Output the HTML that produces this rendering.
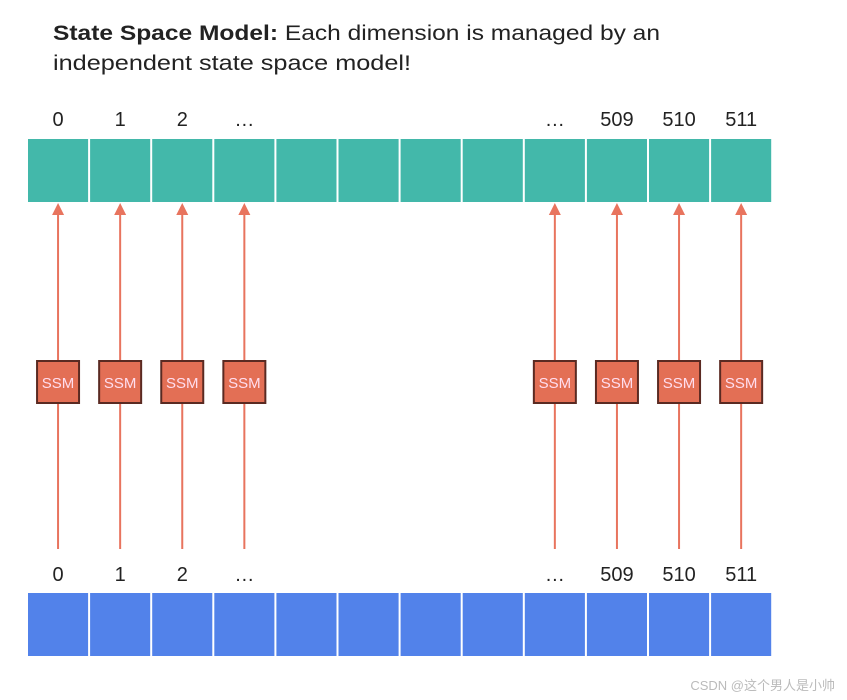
<!DOCTYPE html>
<html><head><meta charset="utf-8">
<style>
html,body{margin:0;padding:0;background:#fff;}
svg{display:block;}
</style></head>
<body>
<svg id="chart" width="847" height="700" viewBox="0 0 847 700" xmlns="http://www.w3.org/2000/svg" font-family="'Liberation Sans', sans-serif">
  <text x="53" y="40" font-size="21" fill="#222" textLength="607" lengthAdjust="spacingAndGlyphs"><tspan font-weight="bold">State Space Model:</tspan> Each dimension is managed by an</text>
  <text x="53" y="70" font-size="21" fill="#222" textLength="358" lengthAdjust="spacingAndGlyphs">independent state space model!</text>
  <g id="g"></g>
  <text x="835" y="690" font-size="13" fill="#bbb" text-anchor="end" font-family="'Liberation Sans','Noto Sans CJK SC',sans-serif">CSDN @这个男人是小帅</text>
</svg>
<script>
const cellCount = 12;
const labelIndices = [0,1,2,3,8,9,10,11];
const labels = ["0","1","2","…","…","509","510","511"];
const ssmIndices = [0,1,2,3,8,9,10,11];
const ssmText = ["SSM","SSM","SSM","SSM","SSM","SSM","SSM","SSM"];

const NS="http://www.w3.org/2000/svg";
const g=document.getElementById('g');
const x0=27, cw=62.1;
function cx(i){return x0+cw*i+cw/2;}
function mk(t,a){const e=document.createElementNS(NS,t);for(const k in a)e.setAttribute(k,a[k]);g.appendChild(e);return e;}

for(let i=0;i<cellCount;i++){
  let r=mk('rect',{x:x0+cw*i+1,y:139,width:cw-2,height:63,fill:'#43b8aa'});
  
  
  let b=mk('rect',{x:x0+cw*i+1,y:593,width:cw-2,height:63,fill:'#5282ea'});
  
  
}
labelIndices.forEach((idx,k)=>{
  let t=mk('text',{x:cx(idx),y:126,'font-size':20,fill:'#222','text-anchor':'middle'});
  t.textContent=labels[k];
  
  
  let t2=mk('text',{x:cx(idx),y:581,'font-size':20,fill:'#222','text-anchor':'middle'});
  t2.textContent=labels[k];
  
  
});
ssmIndices.forEach((idx,k)=>{
  const x=cx(idx);
  let l=mk('line',{x1:x,y1:549,x2:x,y2:214,stroke:'#e8745e','stroke-width':2});
  
  
  let h=mk('polygon',{points:`${x},203 ${x-6},215 ${x+6},215`,fill:'#e8745e'});
  
  
  let r=mk('rect',{x:x-21,y:361,width:42,height:42,fill:'#e36f55',stroke:'#5a2a22','stroke-width':2});
  
  
  let t=mk('text',{x:x,y:388,'font-size':15,fill:'#fde','text-anchor':'middle'});
  t.textContent=ssmText[k];
  
  
});
</script>
</body></html>
